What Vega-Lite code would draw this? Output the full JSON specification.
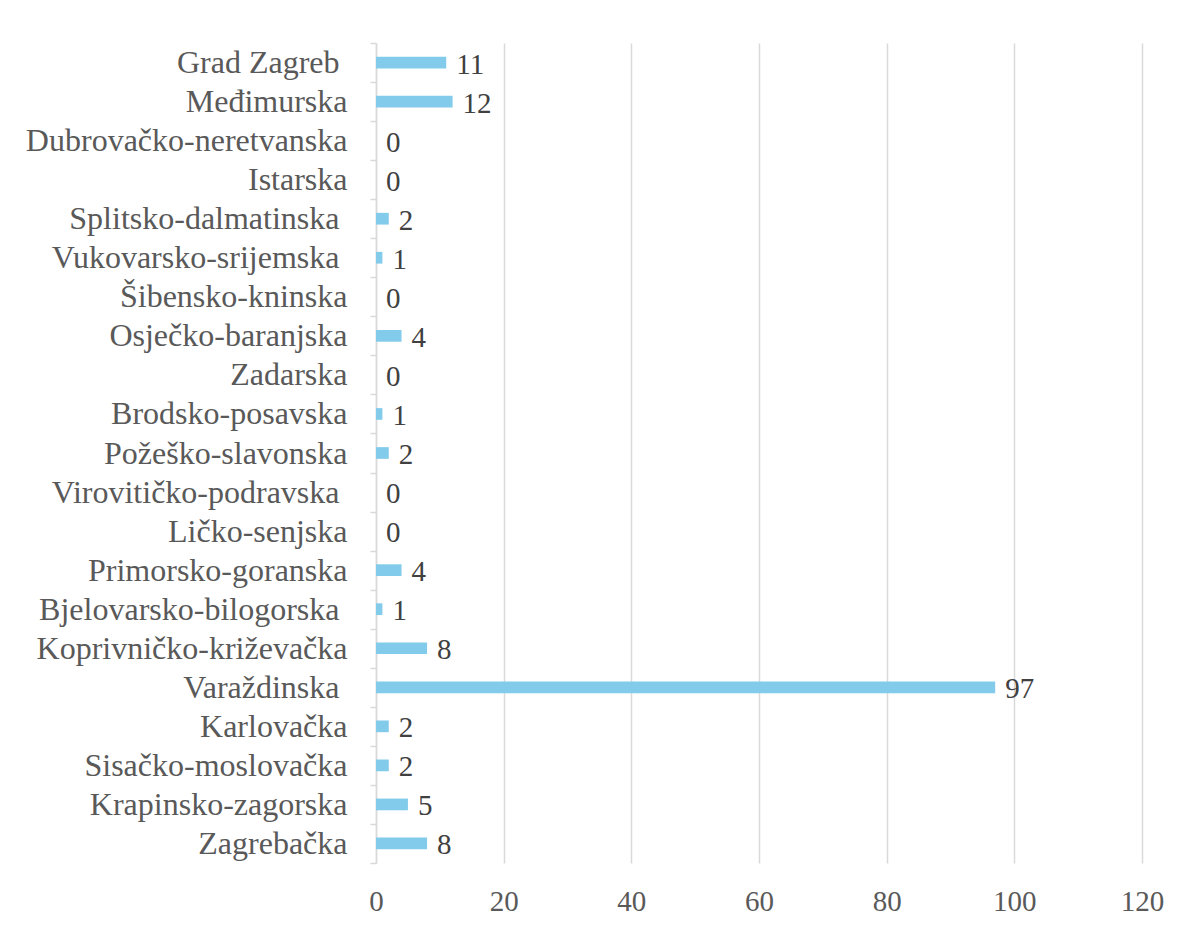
{
  "$schema": "https://vega.github.io/schema/vega-lite/v6.json",
  "width": 766,
  "height": 820,
  "autosize": {"type": "none"},
  "padding": {"left": 376, "top": 43, "right": 39, "bottom": 62},
  "background": "white",
  "config": {"view": {"stroke": null}, "font": "Liberation Serif, serif"},
  "data": {"values": [
    {"zupanija": "Grad Zagreb\u00a0\u200b", "broj": 11},
    {"zupanija": "Međimurska", "broj": 12},
    {"zupanija": "Dubrovačko-neretvanska", "broj": 0},
    {"zupanija": "Istarska", "broj": 0},
    {"zupanija": "Splitsko-dalmatinska\u00a0\u200b", "broj": 2},
    {"zupanija": "Vukovarsko-srijemska\u00a0\u200b", "broj": 1},
    {"zupanija": "Šibensko-kninska", "broj": 0},
    {"zupanija": "Osječko-baranjska", "broj": 4},
    {"zupanija": "Zadarska", "broj": 0},
    {"zupanija": "Brodsko-posavska", "broj": 1},
    {"zupanija": "Požeško-slavonska", "broj": 2},
    {"zupanija": "Virovitičko-podravska\u00a0\u200b", "broj": 0},
    {"zupanija": "Ličko-senjska", "broj": 0},
    {"zupanija": "Primorsko-goranska", "broj": 4},
    {"zupanija": "Bjelovarsko-bilogorska\u00a0\u200b", "broj": 1},
    {"zupanija": "Koprivničko-križevačka", "broj": 8},
    {"zupanija": "Varaždinska\u00a0\u200b", "broj": 97},
    {"zupanija": "Karlovačka", "broj": 2},
    {"zupanija": "Sisačko-moslovačka", "broj": 2},
    {"zupanija": "Krapinsko-zagorska", "broj": 5},
    {"zupanija": "Zagrebačka", "broj": 8}
  ]},
  "encoding": {
    "y": {
      "field": "zupanija", "type": "nominal", "sort": null, "title": null,
      "scale": {"paddingInner": 0, "paddingOuter": 0},
      "axis": {
        "tickBand": "extent", "domainColor": "#d9d9d9", "domainWidth": 1.5,
        "tickColor": "#d9d9d9", "tickWidth": 1.5, "tickSize": 6,
        "labelPadding": 23, "labelFontSize": 32, "labelColor": "#595959",
        "labelFont": "Liberation Serif, serif", "labelLimit": 0, "grid": false
      }
    },
    "x": {
      "field": "broj", "type": "quantitative", "title": null,
      "scale": {"domain": [0, 120], "nice": false},
      "axis": {
        "values": [0, 20, 40, 60, 80, 100, 120], "domain": false, "ticks": false,
        "grid": true, "gridColor": "#d9d9d9", "gridWidth": 1.5, "labelFlush": false,
        "labelPadding": 24, "labelFontSize": 29, "labelColor": "#595959",
        "labelFont": "Liberation Serif, serif"
      }
    }
  },
  "layer": [
    {"mark": {"type": "bar", "color": "#82cbeb", "height": {"band": 0.3}}},
    {"mark": {"type": "text", "align": "left", "baseline": "middle", "dx": 10, "dy": 2, "fontSize": 29, "color": "#404040", "font": "Liberation Serif, serif"},
     "encoding": {"text": {"field": "broj", "type": "quantitative"}}}
  ]
}
